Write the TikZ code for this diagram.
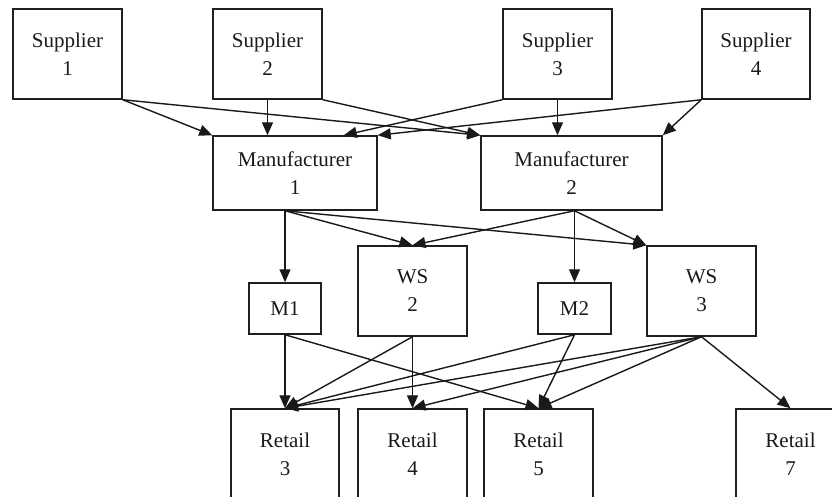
\documentclass[tikz,border=0pt]{standalone}
\usepackage{fontspec}
\setmainfont{Liberation Serif}
\usetikzlibrary{arrows.meta,calc}
\begin{document}
\begin{tikzpicture}[x=1pt,y=-1pt,
  box/.style={draw=black!88, line width=1.5pt, inner sep=0pt, align=center,
    font=\fontsize{21}{28}\selectfont, text=black!90},
  big/.style={box, minimum width=109pt, minimum height=90pt},
  mbox/.style={box, minimum height=74pt},
  small/.style={box, minimum height=51pt},
  link/.style={draw=black!90, line width=1.4pt, -{Triangle[length=13pt,width=11pt]}}]
\useasboundingbox (0,0) rectangle (832,496);
\clip (0,0) rectangle (832,496);
% suppliers
\node[big] (s1) at (67.5,54) {Supplier\\1};
\node[big] (s2) at (267.5,54) {Supplier\\2};
\node[big] (s3) at (557.5,54) {Supplier\\3};
\node[big, minimum width=108pt] (s4) at (756,54) {Supplier\\4};
% manufacturers
\node[mbox, minimum width=164pt] (m1) at (295,173) {Manufacturer\\1};
\node[mbox, minimum width=181pt] (m2) at (571.5,173) {Manufacturer\\2};
% middle
\node[small, minimum width=72pt] (M1) at (285,308.5) {M1};
\node[big] (ws2) at (412.5,291) {WS\\2};
\node[small, minimum width=73pt] (M2) at (574.5,308.5) {M2};
\node[big] (ws3) at (701.5,291) {WS\\3};
% retail
\node[big, minimum width=108pt] (r3) at (285,454) {Retail\\3};
\node[big] (r4) at (412.5,454) {Retail\\4};
\node[big] (r5) at (538.5,454) {Retail\\5};
\node[big] (r7) at (790.5,454) {Retail\\7};
% helper coordinates
\coordinate (m1s3) at ($(m1.north east)+(-34,0)$);
\coordinate (m1o) at (M1.north |- m1.south);
\coordinate (m2o) at (M2.north |- m2.south);
% suppliers -> manufacturers
\draw[link] (s1.south east) -- (m1.north west);
\draw[link] (s1.south east) -- (m2.north west);
\draw[link] (s2.south) -- (s2.south |- m1.north);
\draw[link] (s2.south east) -- (m2.north west);
\draw[link] (s3.south west) -- (m1s3);
\draw[link] (s3.south) -- (s3.south |- m2.north);
\draw[link] (s4.south west) -- (m1.north east);
\draw[link] (s4.south west) -- (m2.north east);
% manufacturers -> middle
\draw[link] (m1o) -- (M1.north);
\draw[link] (m1o) -- (ws2.north);
\draw[link] (m1o) -- (ws3.north west);
\draw[link] (m2o) -- (ws2.north);
\draw[link] (m2o) -- (M2.north);
\draw[link] (m2o) -- (ws3.north west);
% middle -> retail
\draw[link] (M1.south) -- (r3.north);
\draw[link] (M1.south) -- (r5.north);
\draw[link] (ws2.south) -- (r3.north);
\draw[link] (ws2.south) -- (r4.north);
\draw[link] (M2.south) -- (r3.north);
\draw[link] (M2.south) -- (r5.north);
\draw[link] (ws3.south) -- (r3.north);
\draw[link] (ws3.south) -- (r4.north);
\draw[link] (ws3.south) -- (r5.north);
\draw[link] (ws3.south) -- (r7.north);
\end{tikzpicture}
\end{document}
